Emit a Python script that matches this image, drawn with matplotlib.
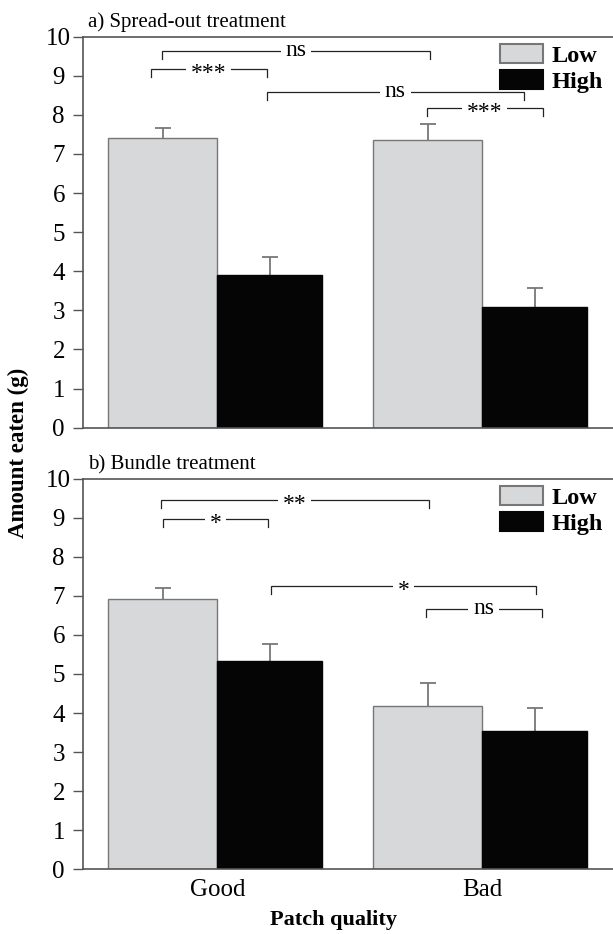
import numpy as np
import matplotlib.pyplot as plt

plt.rcParams['font.family'] = ['Liberation Serif', 'DejaVu Serif']

# data
groups = ['Good', 'Bad']
series = ['Low', 'High']

spread_low = [7.40, 7.35]
spread_low_err = [0.27, 0.43]
spread_high = [3.90, 3.09]
spread_high_err = [0.46, 0.47]

bundle_low = [6.93, 4.17]
bundle_low_err = [0.26, 0.60]
bundle_high = [5.32, 3.54]
bundle_high_err = [0.46, 0.59]

# significance brackets: (x left, x right, height, label)
spread_brackets = [(-0.21, 0.803, 9.64, 'ns'),
                   (-0.25, 0.186, 9.17, '***'),
                   (0.186, 1.158, 8.59, 'ns'),
                   (0.790, 1.228, 8.17, '***')]
bundle_brackets = [(-0.214, 0.799, 9.45, '**'),
                   (-0.204, 0.192, 8.97, '*'),
                   (0.2015, 1.203, 7.24, '*'),
                   (0.786, 1.224, 6.66, 'ns')]

low_color = '#d7d8da'
high_color = '#050505'
edge_color = '#777777'
spine_color = '#555555'

fig = plt.figure(figsize=(6.13, 9.34), dpi=100)
ax_a = fig.add_axes([0.1349, 0.5421, 0.8651, 0.4186])
ax_b = fig.add_axes([0.1349, 0.0693, 0.8651, 0.4182])


def upper_errbar(ax, x, y, err):
    # only the upper half of the error bar, no cap at the bar top
    _, caps, _ = ax.errorbar(x, y, yerr=[np.zeros(len(y)), err], fmt='none',
                             ecolor=edge_color, elinewidth=1.3, capsize=6,
                             capthick=1.3, zorder=1)
    caps[0].set_visible(False)


def draw_panel(ax, low, low_err, high, high_err, brackets, title, show_x):
    x = np.arange(len(groups))
    w_low = 0.411
    w_high = 0.395
    ax.bar(x, low, width=-w_low, align='edge', color=low_color,
           edgecolor=edge_color, linewidth=1.0, label=series[0], zorder=2)
    ax.bar(x, high, width=w_high, align='edge', color=high_color,
           edgecolor=high_color, linewidth=1.0, label=series[1], zorder=2)
    upper_errbar(ax, x - w_low / 2, low, low_err)
    upper_errbar(ax, x + w_high / 2, high, high_err)

    for x1, x2, y, lab in brackets:
        ax.plot([x1, x1, x2, x2], [y - 0.2, y, y, y - 0.2], color='#222222',
                lw=0.9, solid_joinstyle='miter', zorder=2.3)
        dy = 0.5 if lab == 'ns' else -3
        # text box sits under the spines so it never hides the top frame
        ax.annotate(lab, xy=((x1 + x2) / 2, y), xytext=(0, dy),
                    textcoords='offset points', ha='center', va='center',
                    fontsize=17, zorder=2.4,
                    bbox=dict(boxstyle='square,pad=0.2', fc='white', ec='none'))

    ax.set_xlim(-0.508, 1.493)
    ax.set_ylim(0, 10)
    ax.set_yticks(range(0, 11))
    ax.set_xticks(x)
    if show_x:
        ax.set_xticklabels(groups, fontsize=18)
    else:
        ax.set_xticklabels([])
    ax.tick_params(axis='x', length=0, pad=7)
    ax.tick_params(axis='y', length=7.5, width=1.0, color=spine_color,
                   labelsize=18, pad=9.8)
    for lbl in ax.get_yticklabels():
        lbl.set_horizontalalignment('center')
    ax.spines['right'].set_visible(False)
    for s in ['left', 'bottom', 'top']:
        ax.spines[s].set_color(spine_color)
        ax.spines[s].set_linewidth(1.2)

    leg = ax.legend(loc='upper left', bbox_to_anchor=(0.787, 0.982), frameon=False,
                    prop={'weight': 'bold', 'size': 17.5}, handlelength=1.76,
                    handleheight=0.85, handletextpad=0.37, labelspacing=0.13,
                    borderpad=0, borderaxespad=0)
    for h in leg.legend_handles:
        h.set_linewidth(1.5)
    ax.text(0.01, 1.012, title, transform=ax.transAxes, ha='left', va='bottom',
            fontsize=15)


draw_panel(ax_a, spread_low, spread_low_err, spread_high, spread_high_err,
           spread_brackets, 'a) Spread-out treatment', False)
draw_panel(ax_b, bundle_low, bundle_low_err, bundle_high, bundle_high_err,
           bundle_brackets, 'b) Bundle treatment', True)

fig.text(0.03, 1 - 453 / 934, 'Amount eaten (g)', rotation=90, ha='center',
         va='center', fontsize=16.5, fontweight='bold')
fig.text(334 / 613, 1 - 920 / 934, 'Patch quality', ha='center', va='center',
         fontsize=16, fontweight='bold')

plt.savefig('out.png', dpi=100)
